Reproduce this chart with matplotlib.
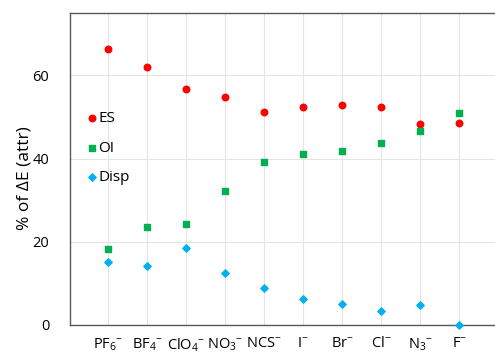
import matplotlib.pyplot as plt
import numpy as np

plt.rcParams['font.family'] = ['Open Sans', 'DejaVu Sans']
plt.rcParams['mathtext.fontset'] = 'custom'
plt.rcParams['mathtext.rm'] = 'Open Sans'
plt.rcParams['mathtext.it'] = 'Open Sans'

anions = ['PF$_6$$^{-}$', 'BF$_4$$^{-}$', 'ClO$_4$$^{-}$', 'NO$_3$$^{-}$', 'NCS$^{-}$',
          'I$^{-}$', 'Br$^{-}$', 'Cl$^{-}$', 'N$_3$$^{-}$', 'F$^{-}$']
es = [66.3, 61.9, 56.8, 54.7, 51.3, 52.3, 52.8, 52.5, 48.2, 48.6]
oi = [18.3, 23.6, 24.3, 32.3, 39.3, 41.1, 41.8, 43.8, 46.6, 51.0]
disp = [15.2, 14.2, 18.4, 12.6, 9.0, 6.25, 5.05, 3.3, 4.8, 0.0]

fig = plt.figure(figsize=(4.95, 3.53), dpi=100)
ax = fig.add_axes([70 / 495, 28 / 353, 428 / 495, 312 / 353])

x = np.arange(1, len(anions) + 1)
ax.scatter(x, es, marker='o', s=22, color='#FF0000', label='ES', zorder=3, clip_on=False)
ax.scatter(x, oi, marker='s', s=22, color='#00B050', label='OI', zorder=3, clip_on=False)
ax.scatter(x, disp, marker='D', s=14, color='#00B0F0', label='Disp', zorder=3, clip_on=False)

ax.set_xlim(0.02, 11)
ax.set_ylim(0, 75)
ax.set_yticks([0, 20, 40, 60])
ax.set_xticks(x)
ax.set_xticklabels(anions, fontsize=10.5)
ax.tick_params(axis='y', labelsize=10.5, length=0, pad=15)
ax.tick_params(axis='x', length=0, pad=8)
ax.grid(True, color='#E4E4E4', linewidth=0.8)
ax.set_axisbelow(True)
for side in ['left', 'bottom', 'top']:
    ax.spines[side].set_color('#595959')
    ax.spines[side].set_linewidth(1.0)
ax.spines['right'].set_visible(False)
ax.set_ylabel('% of ΔE (attr)', fontsize=12.5)
ax.yaxis.set_label_coords(-0.088, 0.47)

ax.legend(loc='upper left', bbox_to_anchor=(0.03, 0.705), frameon=False,
          fontsize=11, handlelength=0.4, handletextpad=0.2, labelspacing=0.95,
          borderaxespad=0)

fig.savefig('out.png', dpi=100)
